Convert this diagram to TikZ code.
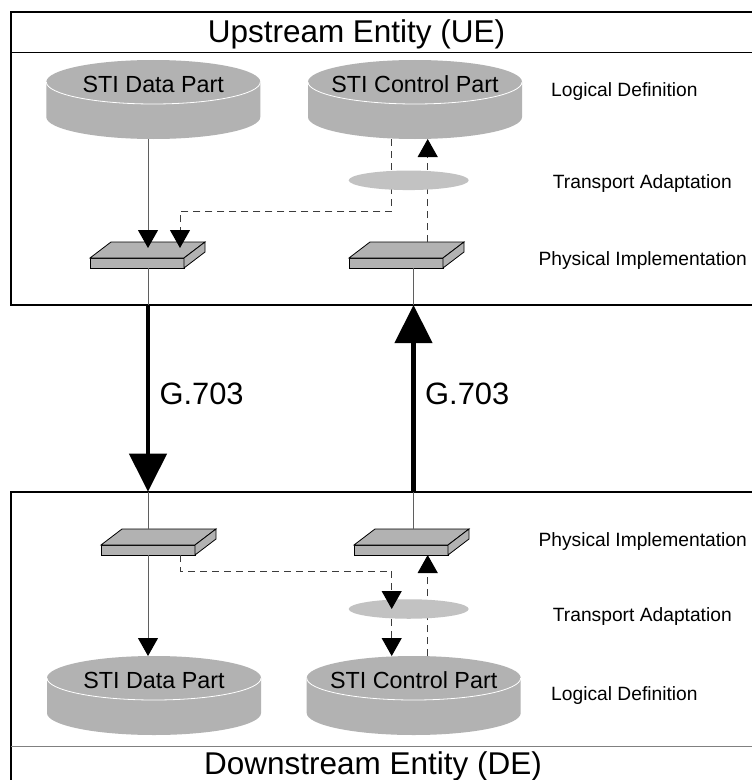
\documentclass[tikz,border=0pt]{standalone}
\usepackage{fontspec}
\setmainfont{Liberation Sans}
\usetikzlibrary{arrows.meta,shapes.geometric}
\definecolor{cylgray}{RGB}{178,178,178}
\definecolor{tagray}{RGB}{194,194,194}
\definecolor{boxgray}{RGB}{178,178,178}
\definecolor{linegray}{RGB}{95,95,95}
\definecolor{dashgray}{RGB}{60,60,60}
\newcommand{\mycyl}[4]{%
  \fill[cylgray] (#2-107,#3) -- (#2-107,#3+35) arc[start angle=180,end angle=0,x radius=107,y radius=22] -- (#2+107,#3) -- cycle;
  \fill[cylgray] (#2,#3) ellipse[x radius=107,y radius=22];
  \draw[white,line width=0.8bp] (#2-107,#3) arc[start angle=180,end angle=0,x radius=107,y radius=22];
  \node[cylnode] (#1) at (#2,#3+17.5) {};
  \node[stilabel] at (#2,#3+10) {#4};
}
\newcommand{\myflat}[3]{%
  \filldraw[flatface] (#2,#3) rectangle (#2+94,#3+10);
  \filldraw[flatface] (#2,#3) -- (#2+21,#3-16) -- (#2+115,#3-16) -- (#2+94,#3) -- cycle;
  \filldraw[flatface] (#2+94,#3) -- (#2+115,#3-16) -- (#2+115,#3-6) -- (#2+94,#3+10) -- cycle;
  \node[flatnode] (#1) at (#2+57.5,#3-3) {};
}
\tikzset{
  cylnode/.style={rectangle,minimum width=214bp,minimum height=79bp,inner sep=0pt,outer sep=0pt},
  stilabel/.style={anchor=base,inner sep=0pt,font=\fontsize{23.4}{26}\selectfont},
  flatface/.style={fill=boxgray,draw=black,line width=0.8bp,line join=miter},
  flatnode/.style={rectangle,minimum width=115bp,minimum height=26bp,inner sep=0pt,outer sep=0pt},
  entbox/.style={draw=black,line width=2bp,minimum width=780bp,inner sep=0pt,outer sep=0pt,anchor=north west},
  tadapt/.style={ellipse,fill=tagray,minimum width=120bp,minimum height=19.5bp,inner sep=0pt,outer sep=0pt},
  title/.style={anchor=base,inner sep=0pt,font=\fontsize{31.6}{36}\selectfont},
  glabel/.style={anchor=base west,inner sep=0pt,font=\fontsize{31}{36}\selectfont},
  layer/.style={anchor=base west,inner sep=0pt,font=\fontsize{19.3}{22}\selectfont},
  thinline/.style={draw=linegray,line width=1bp},
  dashline/.style={draw=dashgray,line width=1bp,dash pattern=on 7bp off 5bp},
  smallarrow/.style={-{Triangle[width=20bp,length=18bp,color=black]}},
  bigarrow/.style={draw=black,line width=4.3bp,-{Triangle[width=37bp,length=38bp,color=black]}},
}
\begin{document}
\begin{tikzpicture}[x=1bp,y=-1bp]
\useasboundingbox (0,0) rectangle (752,780);
\clip (0,0) rectangle (752,780);
\fill[white] (0,0) rectangle (752,780);
% entity boxes
\node[entbox,minimum height=293.3bp] (ue) at (10.5,11.7) {};
\node[entbox,minimum height=320bp] (de) at (10.5,491.7) {};
\draw[black,line width=1bp] (10.5,52.7) -- (790,52.7);
\draw[gray,line width=1bp] (10.5,746) -- (790,746);
\node[title] (uet) at (356.5,42.3) {Upstream Entity (UE)};
\node[title] (det) at (373,774.4) {Downstream Entity (DE)};
% cylinders
\mycyl{ud}{153.3}{82}{STI Data Part}
\mycyl{uc}{415}{82}{STI Control Part}
\mycyl{ld}{154}{678}{STI Data Part}
\mycyl{lc}{413.7}{678}{STI Control Part}
% physical boxes
\myflat{uf1}{90}{258}
\myflat{uf2}{349}{258}
\myflat{lf1}{101}{545}
\myflat{lf2}{354}{545}
% helper coordinates
\coordinate (xL) at (148,0);
\coordinate (xLd) at (180,0);
\coordinate (xR) at (413.5,0);
\coordinate (xRd) at (391.7,0);
\coordinate (xRu) at (427.7,0);
\coordinate (ubend) at (0,211.7);
\coordinate (lbend) at (0,571);
\coordinate (uf1t) at ([yshift=-6bp]uf1.north);
% upper connectors
\draw[thinline,smallarrow] (ud.south -| xL) -- (uf1t -| xL);
\draw[dashline,smallarrow] (uc.south -| xRd) -- (xRd |- ubend) -- (xLd |- ubend) -- (uf1t -| xLd);
\draw[dashline,smallarrow] (uf2.north -| xRu) -- (uc.south -| xRu);
\draw[thinline] (uf1.south -| xL) -- (ue.south -| xL);
\draw[thinline] (uf2.south -| xR) -- (ue.south -| xR);
% G.703 links
\draw[bigarrow] (ue.south -| xL) -- (de.north -| xL);
\draw[bigarrow] (de.north -| xR) -- (ue.south -| xR);
\node[glabel] (g1) at (159.3,404.5) {G.703};
\node[glabel] (g2) at (425,404.5) {G.703};
% lower connectors
\draw[thinline] (de.north -| xL) -- (lf1.north -| xL);
\draw[thinline] (de.north -| xR) -- (lf2.north -| xR);
\draw[thinline,smallarrow] (lf1.south -| xL) -- (ld.north -| xL);
\draw[dashline,smallarrow] (lc.north -| xRu) -- (lf2.south -| xRu);
% transport adaptation
\node[tadapt] (ut) at (408.7,180.3) {};
\node[tadapt] (lt) at (408.7,609) {};
\draw[dashline,smallarrow] (lf1.south -| xLd) -- (xLd |- lbend) -- (xRd |- lbend) -- (lt.center -| xRd);
\draw[dashline,smallarrow] (lt.south -| xRd) -- (lc.north -| xRd);
% layer labels
\node[layer] (l1) at (551,96.5) {Logical Definition};
\node[layer] (l2) at (552.7,188.3) {Transport Adaptation};
\node[layer] (l3) at (538.3,265) {Physical Implementation};
\node[layer] (l4) at (538.3,546.7) {Physical Implementation};
\node[layer] (l5) at (552.7,621.7) {Transport Adaptation};
\node[layer] (l6) at (551,700) {Logical Definition};
\end{tikzpicture}
\end{document}
